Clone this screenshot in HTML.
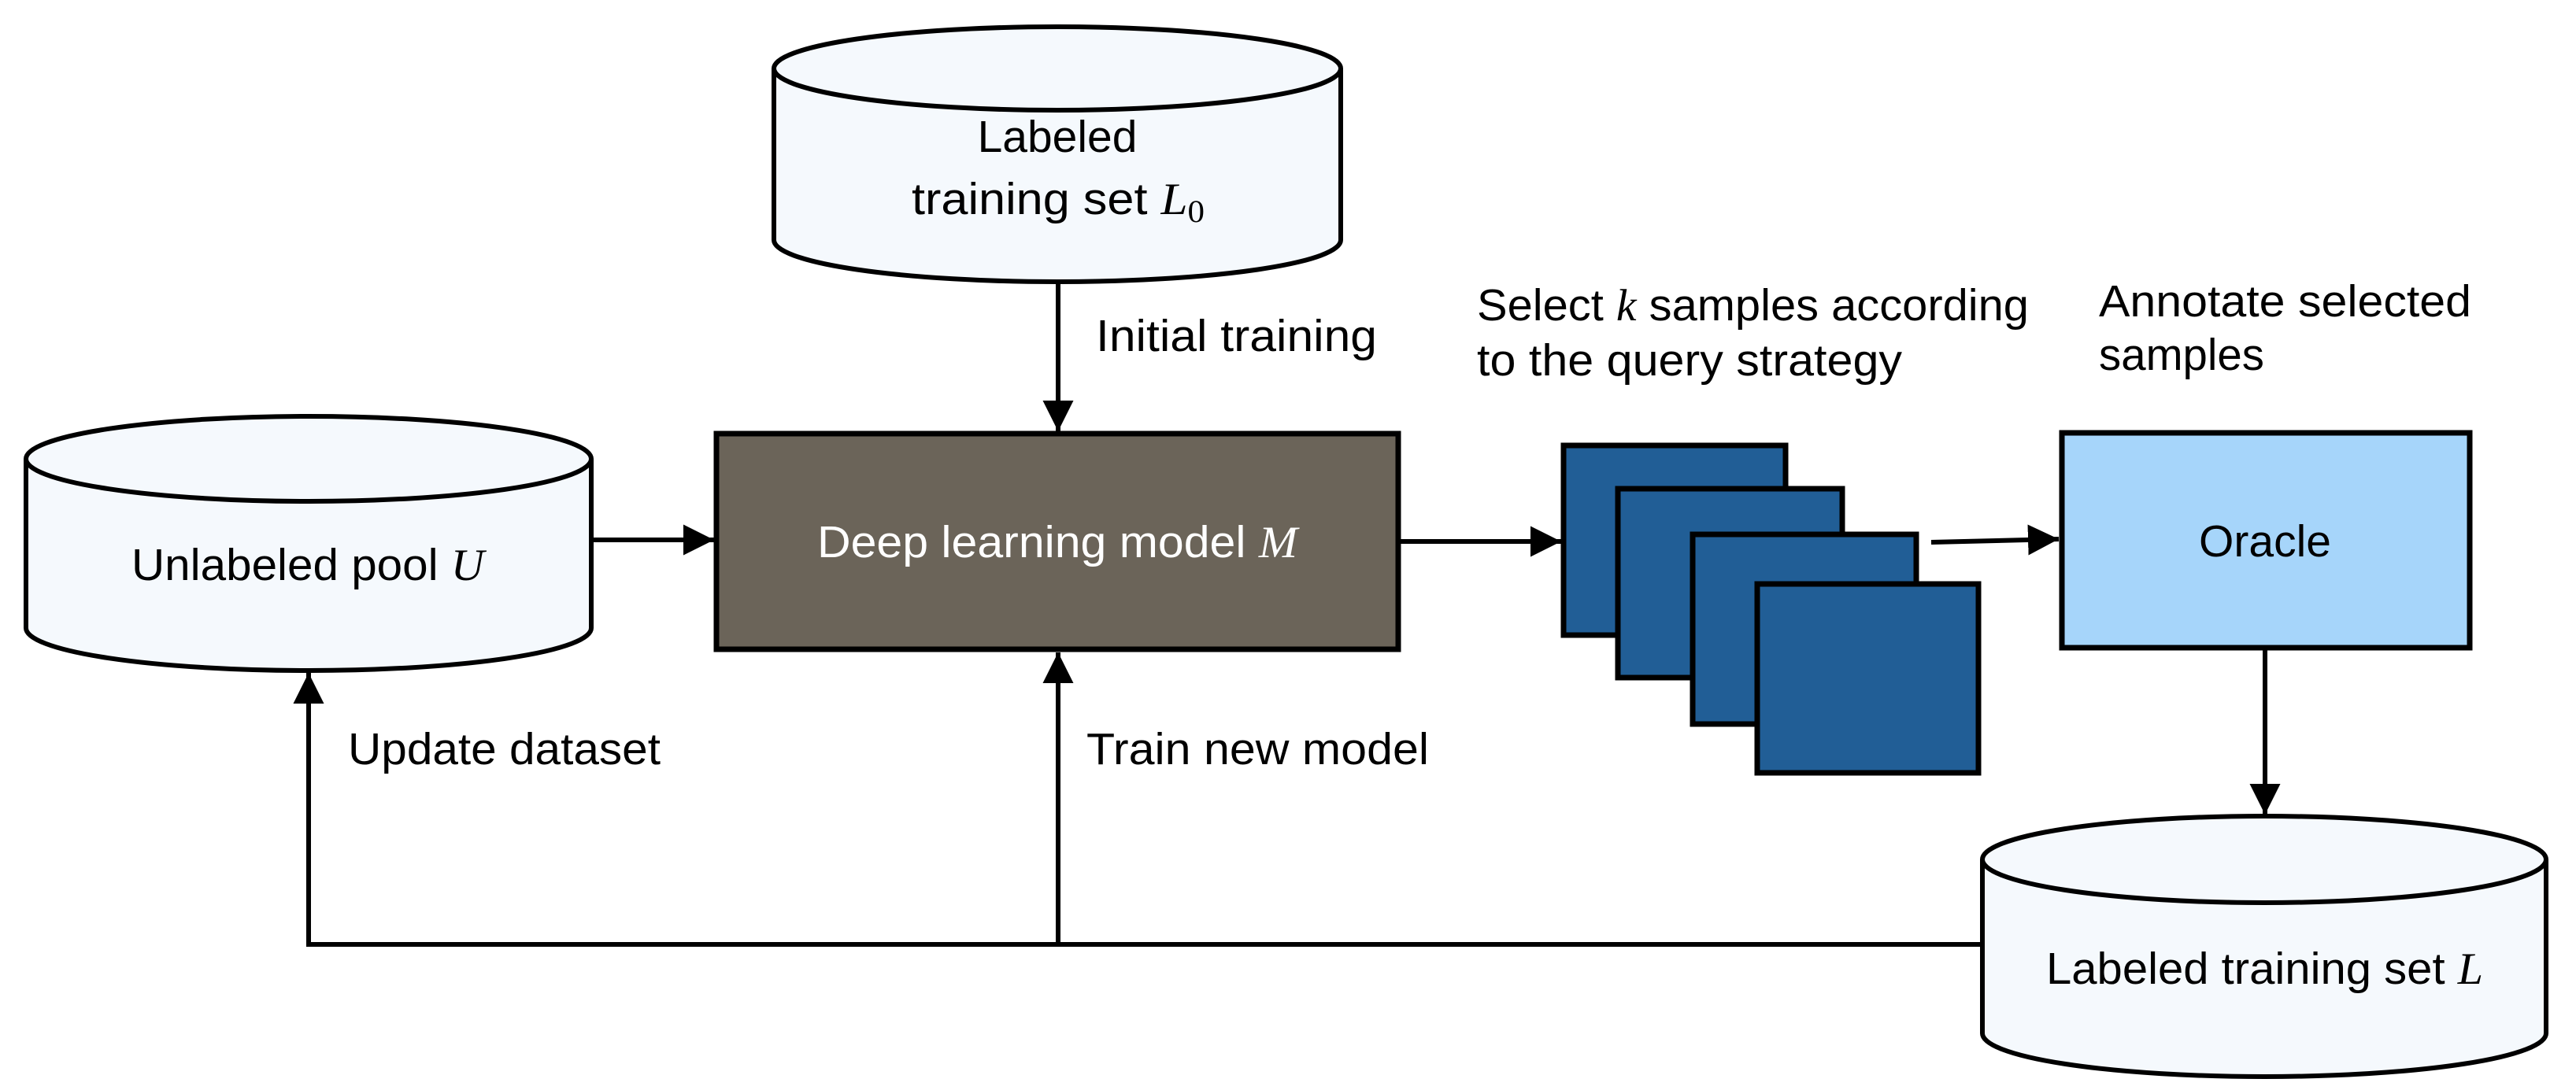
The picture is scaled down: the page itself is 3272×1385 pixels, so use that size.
<!DOCTYPE html>
<html><head><meta charset="utf-8"><style>
html,body{margin:0;padding:0;background:#fff}
svg{display:block}
text{font-family:"Liberation Sans",sans-serif;font-size:57px;fill:#000}
.m{font-family:"Liberation Serif",serif;font-style:italic}
</style></head><body>
<svg width="3272" height="1385" viewBox="0 0 3272 1385" xmlns="http://www.w3.org/2000/svg">
<defs>
<marker id="ah" viewBox="0 0 10 10" refX="10" refY="5" markerWidth="6.5" markerHeight="6.5" markerUnits="strokeWidth" orient="auto">
<path d="M0,0 L10,5 L0,10 z" fill="#000"/>
</marker>
</defs>
<g stroke="#000" stroke-width="6" fill="#f5f9fd">
<path d="M983,87 L983,305 A360,53 0 0 0 1703,305 L1703,87"/>
<ellipse cx="1343" cy="87" rx="360" ry="53"/>
<path d="M33,583 L33,798 A359,54 0 0 0 751,798 L751,583"/>
<ellipse cx="392" cy="583" rx="359" ry="54"/>
<path d="M2518,1092 L2518,1313 A358,55 0 0 0 3234,1313 L3234,1092"/>
<ellipse cx="2876" cy="1092" rx="358" ry="55"/>
</g>
<rect x="910" y="551" width="866" height="274" fill="#6b6459" stroke="#000" stroke-width="7"/>
<g stroke="#000" stroke-width="7" fill="#215e96">
<rect x="1986" y="566" width="282" height="241"/>
<rect x="2055" y="621" width="285" height="240"/>
<rect x="2150" y="679" width="284" height="241"/>
<rect x="2232" y="742" width="281" height="240"/>
</g>
<rect x="2619" y="550" width="518" height="273" fill="#a6d5fa" stroke="#000" stroke-width="7"/>
<g stroke="#000" stroke-width="6" fill="none">
<line x1="1344" y1="361" x2="1344" y2="548" marker-end="url(#ah)"/>
<line x1="753" y1="686" x2="907" y2="686" marker-end="url(#ah)"/>
<line x1="1779" y1="688" x2="1983" y2="688" marker-end="url(#ah)"/>
<line x1="2453" y1="689" x2="2615" y2="685" marker-end="url(#ah)"/>
<line x1="2877" y1="826" x2="2877" y2="1035" marker-end="url(#ah)"/>
<line x1="2518" y1="1200" x2="389" y2="1200"/>
<line x1="392" y1="1203" x2="392" y2="855" marker-end="url(#ah)"/>
<line x1="1344" y1="1200" x2="1344" y2="829" marker-end="url(#ah)"/>
</g>
<text x="1343" y="193" text-anchor="middle">Labeled</text>
<text x="1158" y="272" textLength="372" lengthAdjust="spacingAndGlyphs">training set <tspan class="m">L</tspan><tspan font-family="Liberation Serif" font-size="40" dy="10">0</tspan></text>
<text x="1392" y="446" textLength="357" lengthAdjust="spacingAndGlyphs">Initial training</text>
<text x="167" y="737" textLength="448" lengthAdjust="spacingAndGlyphs">Unlabeled pool <tspan class="m">U</tspan></text>
<text x="1038" y="708" textLength="610" lengthAdjust="spacingAndGlyphs" style="fill:#fff">Deep learning model <tspan class="m" style="fill:#fff">M</tspan></text>
<text x="1876" y="407" textLength="701" lengthAdjust="spacingAndGlyphs">Select <tspan class="m">k</tspan> samples according</text>
<text x="1876" y="477" textLength="540" lengthAdjust="spacingAndGlyphs">to the query strategy</text>
<text x="2666" y="402" textLength="473" lengthAdjust="spacingAndGlyphs">Annotate selected</text>
<text x="2666" y="470" textLength="210" lengthAdjust="spacingAndGlyphs">samples</text>
<text x="2877" y="707" text-anchor="middle">Oracle</text>
<text x="442" y="971" textLength="397" lengthAdjust="spacingAndGlyphs">Update dataset</text>
<text x="1380" y="971" textLength="435" lengthAdjust="spacingAndGlyphs">Train new model</text>
<text x="2599" y="1250" textLength="555" lengthAdjust="spacingAndGlyphs">Labeled training set <tspan class="m">L</tspan></text>
</svg>
</body></html>
